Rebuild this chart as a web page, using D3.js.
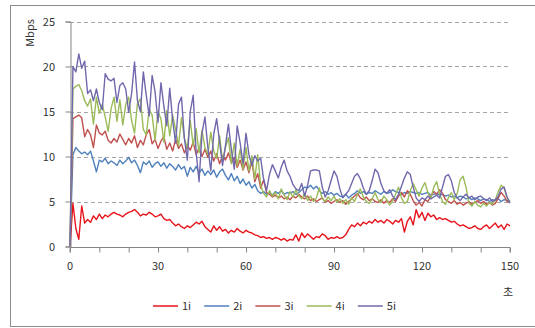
<!DOCTYPE html>
<html>
<head>
<meta charset="utf-8">
<script src="https://cdn.jsdelivr.net/npm/d3@7"></script>
<style>
  body { margin: 0; background: #fff; }
  svg { display: block; }
</style>
</head>
<body>
<div id="chart"></div>
<script>
// per-second throughput (Mbps), t = 0..150
const seconds = d3.range(0, 151);
const seriesNames = ["1i", "2i", "3i", "4i", "5i"];
const xTickLabels = [0, 30, 60, 90, 120, 150];
const yTickLabels = [0, 5, 10, 15, 20, 25];

const s1 = [0, 4.8, 2.0, 0.8, 4.5, 2.6, 3.0, 2.7, 3.4, 3.0,
  3.6, 3.1, 3.5, 3.3, 3.6, 3.8, 3.6, 3.5, 3.3, 3.6,
  3.8, 3.9, 4.1, 3.8, 3.4, 3.6, 3.5, 3.8, 3.6, 3.3,
  3.4, 3.6, 3.1, 2.9, 3.0, 2.6, 2.3, 2.5, 2.2, 2.0,
  2.3, 2.1, 2.4, 2.7, 2.5, 2.8, 2.2, 1.9, 1.6, 2.3,
  1.8, 2.2, 1.7, 1.9, 1.5, 1.8, 1.6, 2.0, 1.7, 1.5,
  1.8, 1.6, 1.5, 1.3, 1.2, 1.0, 1.1, 0.9, 1.0, 0.8,
  1.0, 0.9, 0.7, 0.9, 0.6, 0.8, 0.7, 1.3, 0.6, 1.5,
  1.0, 1.4, 1.1, 0.8, 1.1, 1.0, 1.4, 1.2, 0.8, 1.0,
  0.9, 1.1, 0.9, 1.0, 1.3, 1.9, 2.4, 2.2, 2.6, 2.3,
  2.7, 2.5, 2.8, 2.6, 3.0, 2.7, 2.9, 2.6, 3.0, 2.8,
  2.5, 2.9, 2.7, 3.1, 1.6, 2.8, 3.3, 2.4, 4.1, 3.2,
  3.8, 2.9, 3.7, 3.3, 3.5, 3.0, 3.2, 3.0, 3.1, 2.9,
  2.7, 2.8, 2.5, 2.3, 2.4, 2.2, 2.0, 2.1, 2.3, 2.0,
  1.9, 2.2, 2.4, 2.0, 2.3, 2.6, 2.1, 2.4, 1.9, 2.5,
  2.3];

const s2 = [0, 10.2, 11.0, 10.6, 10.3, 10.5, 10.2, 10.6, 9.5, 8.3,
  9.6, 9.4, 9.8, 9.2, 9.5, 9.3, 9.0, 9.6, 9.2, 9.5,
  9.9, 9.3, 9.6, 9.0, 8.2, 9.4, 9.1, 9.5, 8.8, 9.2,
  9.4, 8.9, 9.3, 8.7, 9.2, 8.9, 8.5, 9.1, 8.6, 8.9,
  7.8, 8.8, 8.3, 8.9, 8.2, 8.6, 7.9, 8.4, 8.0, 8.5,
  7.7, 8.3, 8.6, 7.9, 7.4, 8.1, 7.3, 7.8, 7.0, 7.5,
  6.8, 7.2, 6.5, 6.9, 6.2, 5.9, 6.1, 5.8, 6.0, 5.7,
  6.1, 5.9, 6.2, 5.8, 6.0, 5.9, 6.1, 5.8, 6.0, 6.3,
  6.6, 6.5, 6.8, 6.4, 6.7, 6.2, 5.9, 6.1, 5.8, 6.0,
  5.7, 5.9, 5.6, 5.5, 5.8, 5.4, 5.7, 5.9, 6.2, 5.9,
  6.1, 5.8, 6.0, 5.9, 6.2, 6.0, 5.8, 6.1, 5.9, 6.0,
  6.3, 6.1, 6.0, 5.8, 6.0, 5.9, 6.1, 6.0, 5.9, 6.0,
  5.8, 5.9, 6.0, 5.7, 5.8, 5.9, 5.7, 5.8, 5.6, 5.7,
  5.5, 5.6, 5.4, 5.6, 5.5, 5.3, 5.4, 5.2, 5.4, 5.3,
  5.1, 5.3, 5.2, 5.0, 5.2, 5.1, 5.3, 5.0, 5.2, 5.1,
  5.0];

const s3 = [0, 14.2, 14.4, 14.6, 14.3, 12.2, 13.0, 12.4, 11.0, 13.5,
  12.6, 12.4, 12.8, 11.8, 11.5, 12.0, 11.6, 12.5, 11.9, 11.3,
  12.0, 11.5, 12.3, 11.0, 11.8, 11.3, 12.4, 13.0, 11.4, 11.9,
  10.9, 11.7, 12.2, 10.8, 11.5, 10.6, 11.9, 10.9, 11.4, 10.4,
  11.2, 10.7, 11.6, 10.2, 11.0, 10.0, 10.8, 9.9, 10.6, 9.5,
  10.3, 9.2, 10.1, 9.6, 10.4, 9.3, 9.9, 8.8, 9.6, 8.5,
  9.4, 8.2, 9.5, 7.2, 8.1, 6.5, 7.4, 6.0, 5.8, 5.5,
  5.7, 5.4, 5.6, 5.3, 5.5, 5.2, 5.6, 5.4, 5.8, 5.5,
  5.3, 5.6, 5.1, 5.3, 5.0, 5.2, 5.4, 4.9, 5.1, 4.8,
  5.0, 5.2, 4.9, 5.1, 4.7, 5.0, 5.3, 5.6, 5.9, 5.4,
  5.2, 5.5, 5.1, 5.3, 5.0, 4.9, 5.2, 4.8, 5.1, 4.9,
  5.3, 5.0, 5.6, 6.0, 5.5, 6.2, 5.8, 5.1, 4.6, 4.9,
  4.5, 5.2, 5.0, 5.6, 6.1, 5.8, 6.3, 5.9, 5.2, 5.0,
  4.8, 5.1, 4.7, 4.9, 4.6, 4.8, 5.0, 4.7, 4.9, 5.1,
  4.8, 5.0, 4.7, 4.9, 4.6, 4.8, 5.4, 6.0, 5.6, 5.0,
  4.9];

const s4 = [0, 17.5, 17.8, 18.0, 17.3, 16.2, 15.6, 16.4, 13.6, 16.6,
  14.8, 15.8, 14.4, 12.8, 15.3, 16.6, 13.9, 16.3, 13.5, 15.8,
  16.6, 14.0, 12.6, 15.9, 16.4, 13.0, 12.4, 15.2, 14.6, 11.8,
  15.0, 14.2, 11.6, 15.1, 12.3, 14.6, 13.0, 11.2, 14.3, 12.0,
  10.9, 14.0, 11.2, 13.1, 10.4, 12.9, 11.0, 10.2, 12.7, 10.6,
  9.8, 12.3, 9.5, 11.0, 12.1, 9.2, 11.5, 9.0, 10.8, 8.6,
  11.0, 8.4, 10.1, 7.5, 10.2, 6.8, 5.9, 5.5, 6.2, 5.6,
  6.0, 5.3, 6.4, 5.7, 5.2, 6.1, 5.5, 6.3, 5.6, 5.3,
  5.9, 5.1, 5.6, 5.0, 5.4, 6.5, 5.3, 5.0, 5.5, 5.1,
  5.6, 4.9, 5.3, 4.8, 5.2, 4.7, 5.4, 5.0, 5.8, 6.4,
  5.5, 5.0, 4.8, 5.3, 6.0, 5.2, 4.9, 5.6, 5.2, 4.6,
  5.1, 5.8, 6.6, 5.4, 4.8, 5.0, 6.2, 7.0, 6.3, 5.6,
  6.5, 7.1, 6.0, 5.3, 6.6, 7.2, 5.8, 5.0, 4.7, 5.4,
  6.0, 5.2, 5.9, 7.4, 7.8, 6.6, 4.8, 4.5, 5.0, 4.6,
  4.4, 4.8, 4.5, 4.9, 4.7, 5.2, 6.1, 6.8, 6.5, 5.4,
  5.0];

const s5 = [0, 20.0, 19.4, 21.4, 19.8, 20.6, 17.0, 17.4, 16.2, 17.5,
  16.0, 15.2, 19.2, 18.6, 18.4, 18.7, 16.0, 17.9, 18.2, 17.5,
  14.9, 17.0, 20.5, 16.2, 15.0, 19.4, 16.8, 14.5, 19.0, 17.2,
  13.8, 18.2, 15.6, 13.4, 17.6, 14.0, 11.5, 15.8, 16.6, 12.0,
  9.6, 15.0, 16.8, 10.5, 7.2, 12.6, 14.4, 11.0, 8.4, 12.5,
  14.2, 11.6, 9.0, 11.2, 13.6, 10.8, 8.6, 13.4, 11.5, 9.2,
  12.6, 10.2, 9.0, 10.1, 9.5, 9.8, 7.5, 6.2, 8.0, 9.1,
  8.4, 7.6, 8.8, 9.6, 8.4, 7.8, 6.9, 6.4, 6.2, 7.0,
  5.6, 6.8, 8.4, 8.5, 8.5, 8.4, 6.6, 5.5, 6.2, 7.3,
  8.4, 7.8, 6.4, 5.4, 5.8, 6.2, 7.0, 7.8, 8.1, 7.5,
  6.5, 5.8, 6.2, 7.3, 8.6, 8.2, 7.0, 6.2, 5.9, 6.3,
  5.6, 5.2, 5.8, 6.7, 7.6, 8.3, 8.0, 6.6, 5.4, 5.0,
  5.4, 5.2, 5.6, 5.3, 5.5, 5.7, 5.4, 6.6, 7.8, 8.0,
  7.3, 6.0, 5.4, 5.1, 5.5, 5.8, 5.4, 5.6, 5.2, 5.5,
  5.6, 5.3, 5.1, 5.4, 5.0, 5.2, 5.6, 6.4, 6.6, 5.5,
  4.8];

const seriesValues = [s1, s2, s3, s4, s5];
const colors = ["#e8141b", "#4f81bd", "#c0504d", "#9bbb59", "#7068ac"];

const W = 535, H = 328;
const margin = { top: 21.5, right: 25, bottom: 81.5, left: 70 };
const font = "'Noto Sans CJK KR', 'DejaVu Sans', sans-serif";
const textColor = "#333";
const axisColor = "#868686";

const svg = d3.select("#chart").append("svg")
  .attr("width", W)
  .attr("height", H)
  .attr("viewBox", [0, 0, W, H])
  .attr("font-family", font);

// outer chart frame
svg.append("rect")
  .attr("x", 10.5).attr("y", 5.5)
  .attr("width", W + 10).attr("height", H - 7)
  .attr("fill", "#fff")
  .attr("stroke", "#8c8c8c");

const x = d3.scaleLinear().domain([0, 150]).range([margin.left, W - margin.right]);
const y = d3.scaleLinear().domain([0, 25]).range([H - margin.bottom, margin.top]);

// dashed gridlines
svg.append("g")
  .selectAll("line")
  .data(yTickLabels.filter((d) => d > 0))
  .join("line")
  .attr("x1", x(0)).attr("x2", x(150))
  .attr("y1", (d) => Math.round(y(d)) + 0.5)
  .attr("y2", (d) => Math.round(y(d)) + 0.5)
  .attr("stroke", "#a6a6a6")
  .attr("stroke-dasharray", "4,3");

// axes
const ax = d3.axisBottom(x).tickValues(d3.range(0, 151, 10)).tickSize(5).tickFormat("");
const ay = d3.axisLeft(y).tickValues(yTickLabels).tickSize(5).tickFormat("");

svg.append("g")
  .attr("transform", `translate(0,${Math.round(y(0)) + 0.5})`)
  .call(ax)
  .call((g) => g.selectAll("line, path").attr("stroke", axisColor))
  .call((g) => g.select(".domain").attr("d", `M${x(0)},5V0H${x(150)}V5`));

svg.append("g")
  .attr("transform", `translate(${Math.round(x(0)) + 0.5},0)`)
  .call(ay)
  .call((g) => g.selectAll("line, path").attr("stroke", axisColor));

// tick labels
svg.append("g")
  .selectAll("text")
  .data(xTickLabels)
  .join("text")
  .attr("x", (d) => x(d))
  .attr("y", y(0) + 23)
  .attr("text-anchor", "middle")
  .attr("font-size", 11)
  .attr("fill", textColor)
  .text((d) => d);

svg.append("g")
  .selectAll("text")
  .data(yTickLabels)
  .join("text")
  .attr("x", x(0) - 15)
  .attr("y", (d) => y(d) + 4)
  .attr("text-anchor", "end")
  .attr("font-size", 11)
  .attr("fill", textColor)
  .text((d) => d);

// axis titles
svg.append("text")
  .attr("transform", `translate(34,33) rotate(-90)`)
  .attr("text-anchor", "middle")
  .attr("font-size", 11)
  .attr("fill", textColor)
  .text("Mbps");

svg.append("text")
  .attr("x", 508)
  .attr("y", 296)
  .attr("text-anchor", "middle")
  .attr("font-size", 11)
  .attr("fill", textColor)
  .text("초");

// lines
const lineGen = d3.line()
  .x((d, i) => x(seconds[i]))
  .y((d) => y(d));

svg.append("g")
  .selectAll("path")
  .data(seriesValues)
  .join("path")
  .attr("d", (d) => lineGen(d))
  .attr("fill", "none")
  .attr("stroke", (d, i) => colors[i])
  .attr("stroke-width", 1.4)
  .attr("stroke-linejoin", "round");

// legend
const legend = svg.append("g")
  .selectAll("g")
  .data(seriesNames)
  .join("g")
  .attr("transform", (d, i) => `translate(${153 + i * 51.2},306)`);

legend.append("line")
  .attr("x1", 0).attr("x2", 25)
  .attr("stroke", (d, i) => colors[i])
  .attr("stroke-width", 1.5);

legend.append("text")
  .attr("x", 29)
  .attr("y", 4)
  .attr("font-size", 11)
  .attr("fill", textColor)
  .text((d) => d);
</script>
</body>
</html>
